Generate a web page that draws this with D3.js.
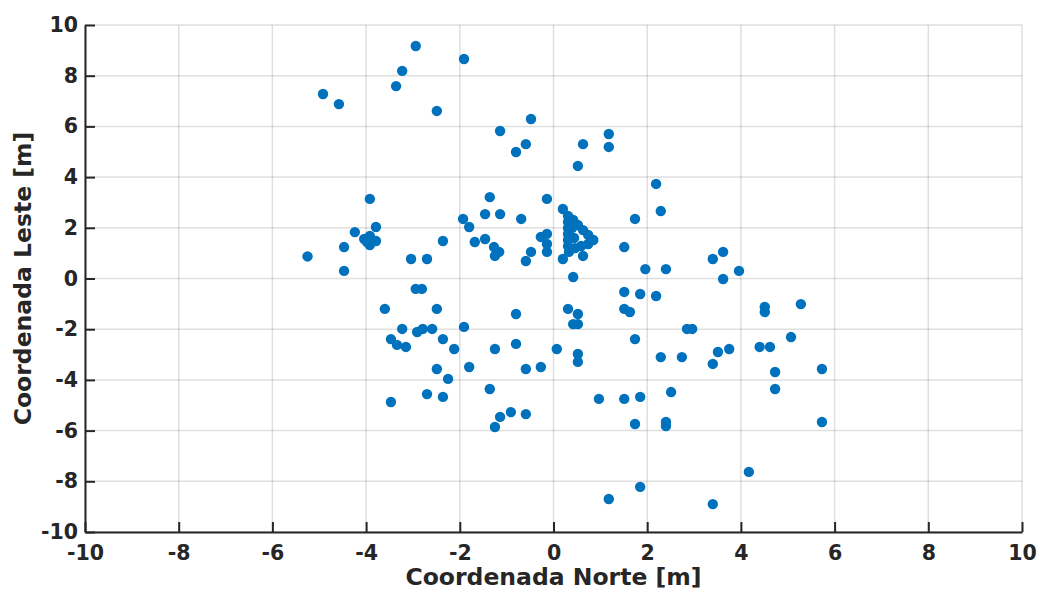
<!DOCTYPE html>
<html>
<head>
<meta charset="utf-8">
<script src="https://cdn.jsdelivr.net/npm/d3@7"></script>
<style>
  body { margin: 0; background: #fff; }
  svg { display: block; font-family: "DejaVu Sans", sans-serif; }
</style>
</head>
<body>
<svg width="1040" height="592"></svg>
<script>
const width = 1040, height = 592;

// extents and ticks
const xDomain = [-10, 10];
const yDomain = [-10, 10];
const tickValues = [-10, -8, -6, -4, -2, 0, 2, 4, 6, 8, 10];

// Coordenada Norte (x) / Coordenada Leste (y)
const norte = [
  -5.25, -4.92, -4.58, -4.47, -4.47, -4.24, -4.04, -3.92, -3.92, -3.98, -3.79, -3.92, -3.79,
  -3.60, -3.47, -3.47, -3.36, -3.23, -3.34, -3.23, -3.15, -3.04, -2.94, -2.94, -2.91,
  -2.81, -2.79, -2.70, -2.70, -2.59, -2.49, -2.49, -2.49, -2.36, -2.36, -2.36, -2.25,
  -2.12, -1.93, -1.91, -1.91, -1.80, -1.80, -1.68, -1.46, -1.46, -1.36, -1.36, -1.27,
  -1.25, -1.25, -1.25, -1.16, -1.14, -1.14, -1.14, -0.91, -0.80, -0.80, -0.80, -0.69,
  -0.59, -0.59, -0.59, -0.59, -0.48, -0.48, -0.27, -0.27, -0.14, -0.14, -0.14, -0.14,
  0.07, 0.20, 0.20,
  0.31, 0.31, 0.31, 0.31, 0.31, 0.31, 0.33, 0.42, 0.52, 0.63, 0.74, 0.85, 0.74, 0.59, 0.46, 0.40, 0.44,
  0.42, 0.31, 0.42, 0.52, 0.52, 0.52, 0.52, 0.52, 0.63, 0.63, 0.97, 1.18, 1.18, 1.18,
  1.51, 1.51, 1.51, 1.63, 1.51, 1.74, 1.74, 1.74, 1.85, 1.85, 1.85, 1.96, 2.19, 2.19,
  2.29, 2.29, 2.40, 2.40, 2.40, 2.51, 2.74, 2.85, 2.96, 3.40, 3.40, 3.40, 3.51, 3.62,
  3.62, 3.75, 3.96, 4.17, 4.40, 4.51, 4.51, 4.62, 4.73, 4.73, 5.07, 5.28, 5.73, 5.73
];
const leste = [
  0.87, 7.28, 6.88, 1.24, 0.30, 1.83, 1.56, 1.68, 1.32, 1.44, 1.48, 3.14, 2.03,
  -1.20, -2.39, -4.87, 7.59, 8.19, -2.62, -1.99, -2.70, 0.77, 9.17, -0.41, -2.11,
  -0.41, -1.99, 0.77, -4.56, -1.99, 6.61, -1.20, -3.57, 1.48, -2.39, -4.67, -3.96,
  -2.78, 2.35, 8.66, -1.91, 2.03, -3.49, 1.44, 2.54, 1.56, 3.21, -4.36, 1.24,
  -2.78, 0.89, -5.86, 1.05, 5.82, 2.54, -5.46, -5.27, 4.99, -1.40, -2.58, 2.35,
  5.30, 0.69, -3.57, -5.35, 6.29, 1.05, 1.64, -3.49, 3.14, 1.76, 1.36, 1.05,
  -2.78, 2.74, 0.77,
  2.47, 2.23, 1.99, 1.76, 1.52, 1.28, 1.05, 2.31, 2.11, 1.91, 1.72, 1.52, 1.36, 1.28, 1.20, 2.00, 1.60,
  0.06, -1.20, -1.80, 4.44, -1.40, -1.80, -2.98, -3.29, 5.30, 0.89, -4.75, 5.70, 5.19, -8.70,
  1.24, -0.53, -1.20, -1.32, -4.75, 2.35, -2.39, -5.74, -0.61, -4.67, -8.22, 0.37, 3.73, -0.69,
  2.66, -3.10, 0.37, -5.66, -5.82, -4.48, -3.10, -1.99, -1.99, 0.77, -3.37, -8.90, -2.90, 1.05,
  -0.02, -2.78, 0.30, -7.63, -2.70, -1.12, -1.32, -2.70, -3.69, -4.36, -2.31, -1.01, -3.57, -5.66
];

const xLabel = "Coordenada Norte [m]";
const yLabel = "Coordenada Leste [m]";

const plot = { left: 85, right: 1022, top: 25, bottom: 532 };
const ink = "#262626";

const svg = d3.select("svg");

const x = d3.scaleLinear().domain(xDomain).range([plot.left, plot.right]);
const y = d3.scaleLinear().domain(yDomain).range([plot.bottom, plot.top]);

// grid
const grid = svg.append("g")
  .attr("stroke", ink)
  .attr("stroke-opacity", 0.15)
  .attr("stroke-width", 1.5);

grid.selectAll("line.gx")
  .data(tickValues)
  .enter().append("line")
  .attr("x1", d => x(d)).attr("x2", d => x(d))
  .attr("y1", plot.top).attr("y2", plot.bottom);

grid.selectAll("line.gy")
  .data(tickValues)
  .enter().append("line")
  .attr("class", "gy")
  .attr("y1", d => y(d)).attr("y2", d => y(d))
  .attr("x1", plot.left).attr("x2", plot.right);

// points
const pts = d3.zip(norte, leste);
svg.append("g")
  .selectAll("circle")
  .data(pts)
  .enter().append("circle")
  .attr("cx", d => x(d[0]))
  .attr("cy", d => y(d[1]))
  .attr("r", 5.2)
  .attr("fill", "#0072BD");

// axes (plain hyphen minus like the original)
const fmt = d => String(d);

const xAxis = svg.append("g")
  .attr("transform", `translate(0,${plot.bottom})`)
  .call(d3.axisBottom(x).tickValues(tickValues).tickFormat(fmt)
    .tickSizeInner(-10).tickSizeOuter(0).tickPadding(13));

const yAxis = svg.append("g")
  .attr("transform", `translate(${plot.left},0)`)
  .call(d3.axisLeft(y).tickValues(tickValues).tickFormat(fmt)
    .tickSizeInner(-10).tickSizeOuter(0).tickPadding(7));

[xAxis, yAxis].forEach(a => {
  a.select(".domain").attr("stroke", ink).attr("stroke-width", 2);
  a.selectAll(".tick line").attr("stroke", ink).attr("stroke-width", 2);
  a.selectAll(".tick text")
    .attr("fill", ink)
    .attr("font-family", "DejaVu Sans")
    .attr("font-weight", "bold")
    .attr("font-size", "20.5px");
});

svg.append("text")
  .attr("x", (plot.left + plot.right) / 2)
  .attr("y", 585)
  .attr("text-anchor", "middle")
  .attr("fill", ink)
  .attr("font-weight", "bold")
  .attr("font-size", "23.5px")
  .text(xLabel);

svg.append("text")
  .attr("transform", `translate(31,${(plot.top + plot.bottom) / 2}) rotate(-90)`)
  .attr("text-anchor", "middle")
  .attr("fill", ink)
  .attr("font-weight", "bold")
  .attr("font-size", "23.5px")
  .text(yLabel);
</script>
</body>
</html>
